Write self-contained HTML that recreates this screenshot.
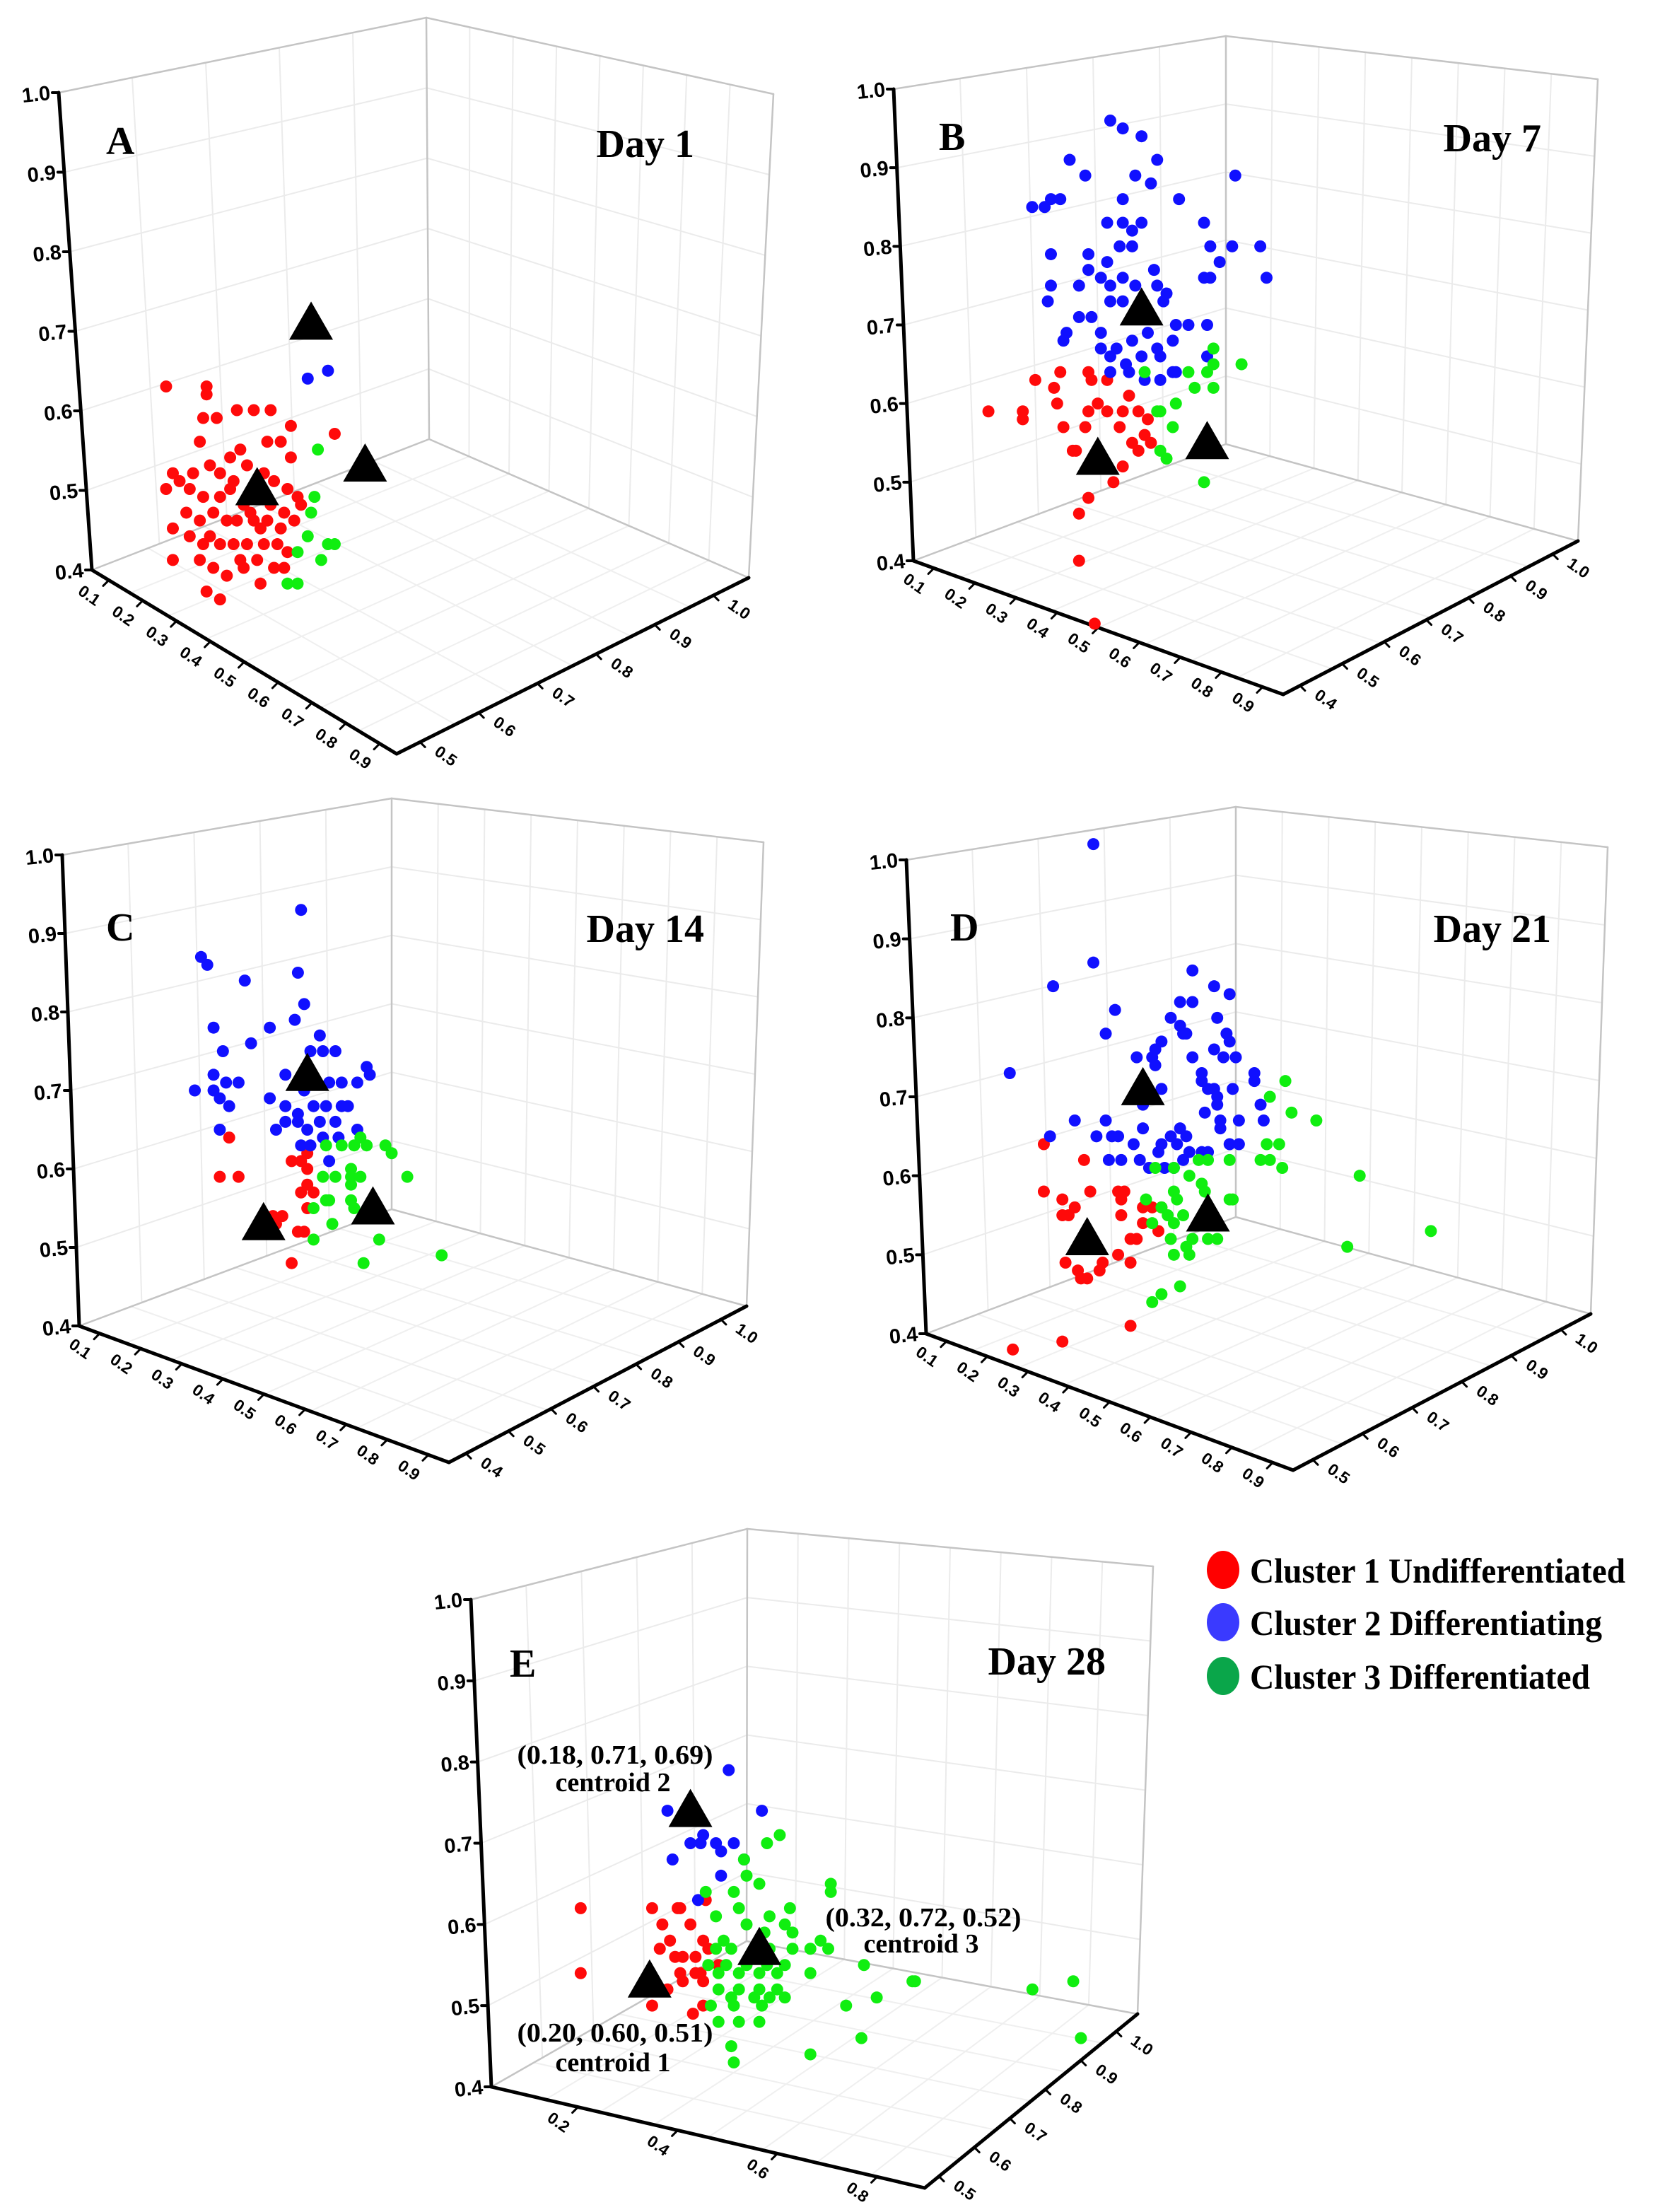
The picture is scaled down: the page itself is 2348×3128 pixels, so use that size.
<!DOCTYPE html>
<html><head><meta charset="utf-8"><title>K-means clusters by day</title>
<style>
html,body{margin:0;padding:0;background:#fff;}
svg{display:block;}
.ttl{font-family:"Liberation Serif",serif;font-weight:bold;font-size:56px;fill:#000;}
.lg{font-family:"Liberation Serif",serif;font-weight:bold;font-size:50px;fill:#000;}
.ann{font-family:"Liberation Serif",serif;font-weight:bold;font-size:38px;fill:#000;}
</style></head>
<body>
<svg id="fig" xmlns="http://www.w3.org/2000/svg" width="2348" height="3128" viewBox="0 0 2348 3128">
<rect x="0" y="0" width="2348" height="3128" fill="#fff"/>
<g id="layer-grid"></g>
<g id="layer-axes"></g>
<g id="layer-marks"></g>

<text class="ttl" x="150" y="218">A</text>
<text class="ttl" x="982" y="222" text-anchor="end">Day 1</text>
<text class="ttl" x="1328" y="212">B</text>
<text class="ttl" x="2180" y="214" text-anchor="end">Day 7</text>
<text class="ttl" x="150" y="1330">C</text>
<text class="ttl" x="996" y="1332" text-anchor="end">Day 14</text>
<text class="ttl" x="1344" y="1330">D</text>
<text class="ttl" x="2194" y="1332" text-anchor="end">Day 21</text>
<text class="ttl" x="721" y="2371">E</text>
<text class="ttl" x="1564" y="2368" text-anchor="end">Day 28</text>

<g>
  <ellipse cx="1730" cy="2220" rx="23" ry="27" fill="#ff0000"/>
  <text class="lg" x="1768" y="2238" textLength="531" lengthAdjust="spacingAndGlyphs">Cluster 1 Undifferentiated</text>
  <ellipse cx="1730" cy="2294" rx="23" ry="27" fill="#3a3aff"/>
  <text class="lg" x="1768" y="2312" textLength="498" lengthAdjust="spacingAndGlyphs">Cluster 2 Differentiating</text>
  <ellipse cx="1730" cy="2370" rx="23" ry="27" fill="#0aa64a"/>
  <text class="lg" x="1768" y="2388" textLength="481" lengthAdjust="spacingAndGlyphs">Cluster 3 Differentiated</text>
</g>

<g>
  <text class="ann" x="870" y="2494" text-anchor="middle" textLength="277" lengthAdjust="spacingAndGlyphs">(0.18, 0.71, 0.69)</text>
  <text class="ann" x="867" y="2533" text-anchor="middle">centroid 2</text>
  <text class="ann" x="1306" y="2724" text-anchor="middle" textLength="277" lengthAdjust="spacingAndGlyphs">(0.32, 0.72, 0.52)</text>
  <text class="ann" x="1303" y="2761" text-anchor="middle">centroid 3</text>
  <text class="ann" x="870" y="2887" text-anchor="middle" textLength="277" lengthAdjust="spacingAndGlyphs">(0.20, 0.60, 0.51)</text>
  <text class="ann" x="867" y="2929" text-anchor="middle">centroid 1</text>
</g>
</svg>

<script>
// ---------- data: [depth (0..1 along floor), height (0.4..1.0)] ----------
const heightTicks = [0.4, 0.5, 0.6, 0.7, 0.8, 0.9, 1.0];
const heightTickLabels = ['0.4','0.5','0.6','0.7','0.8','0.9','1.0'];
const frontTicks9 = ['0.1','0.2','0.3','0.4','0.5','0.6','0.7','0.8','0.9'];
const frontTicksE = ['0.2','0.4','0.6','0.8'];
const rightTicks6 = ['0.5','0.6','0.7','0.8','0.9','1.0'];
const rightTicks7 = ['0.4','0.5','0.6','0.7','0.8','0.9','1.0'];

const dayA_cluster1 = [[.22,.63],[.34,.63],[.34,.62],[.33,.59],[.37,.59],[.43,.60],[.48,.60],[.53,.60],[.59,.58],[.56,.56],[.52,.56],[.59,.54],[.32,.56],[.41,.54],[.24,.52],[.26,.51],[.35,.53],[.38,.52],[.42,.51],[.46,.53],[.51,.52],[.54,.51],[.58,.50],[.61,.49],[.22,.50],[.29,.50],[.33,.49],[.38,.49],[.41,.50],[.45,.48],[.49,.49],[.53,.48],[.57,.47],[.62,.48],[.28,.47],[.32,.46],[.36,.47],[.40,.46],[.43,.46],[.48,.46],[.52,.46],[.56,.45],[.60,.46],[.24,.45],[.29,.44],[.33,.43],[.38,.43],[.42,.43],[.46,.43],[.51,.43],[.55,.43],[.58,.42],[.32,.41],[.36,.40],[.40,.39],[.45,.40],[.49,.41],[.54,.40],[.24,.41],[.34,.37],[.38,.36],[.50,.38],[.57,.40],[.72,.57],[.44,.55],[.47,.47],[.35,.44],[.44,.41],[.30,.52],[.50,.45]];
const dayA_cluster2 = [[.64,.64],[.70,.65]];
const dayA_cluster3 = [[.67,.55],[.66,.49],[.65,.47],[.64,.44],[.61,.42],[.70,.43],[.72,.43],[.68,.41],[.58,.38],[.61,.38]];
const dayA_centroids = [[.49,.50],[.65,.71],[.81,.53]];

const dayB_cluster1 = [[.56,.64],[.47,.64],[.57,.63],[.39,.63],[.62,.63],[.45,.62],[.69,.61],[.24,.59],[.35,.59],[.46,.60],[.59,.60],[.56,.59],[.62,.59],[.67,.59],[.72,.59],[.75,.58],[.48,.57],[.55,.57],[.66,.57],[.74,.56],[.35,.58],[.51,.54],[.70,.55],[.72,.54],[.76,.55],[.52,.54],[.67,.52],[.64,.50],[.56,.48],[.53,.46],[.53,.40],[.58,.32]];
const dayB_cluster2 = [[.63,.96],[.67,.95],[.73,.94],[.50,.91],[.78,.91],[.55,.89],[.71,.89],[.76,.88],[.38,.85],[.42,.85],[.44,.86],[.47,.86],[.67,.86],[.85,.86],[1.03,.89],[.62,.83],[.67,.83],[.70,.82],[.73,.83],[.93,.83],[.66,.80],[.70,.80],[.95,.80],[.44,.79],[.56,.79],[.62,.78],[1.02,.80],[1.11,.80],[.98,.78],[1.13,.76],[.77,.77],[.56,.77],[.53,.75],[.60,.76],[.63,.75],[.67,.76],[.71,.75],[.78,.75],[.81,.74],[.93,.76],[.95,.76],[.44,.75],[.43,.73],[.53,.71],[.57,.71],[.63,.73],[.67,.73],[.70,.71],[.80,.73],[.84,.70],[.88,.70],[.94,.70],[.49,.69],[.48,.68],[.60,.69],[.65,.67],[.70,.68],[.75,.69],[.78,.67],[.83,.68],[.60,.67],[.63,.66],[.68,.65],[.73,.66],[.79,.66],[.83,.64],[.63,.64],[.69,.64],[.74,.63],[.79,.63],[.84,.64],[.94,.66]];
const dayB_cluster3 = [[.74,.64],[.88,.64],[.94,.64],[.96,.65],[.96,.67],[1.05,.65],[.90,.62],[.96,.62],[.84,.60],[.78,.59],[.79,.59],[.83,.57],[.79,.54],[.81,.53],[.93,.50]];
const dayB_centroids = [[.59,.53],[.73,.72],[.94,.55]];

const dayC_cluster1 = [[.48,.64],[.45,.59],[.51,.59],[.68,.61],[.71,.61],[.73,.62],[.73,.60],[.73,.58],[.75,.57],[.71,.57],[.73,.55],[.62,.54],[.65,.54],[.63,.53],[.70,.52],[.72,.52],[.68,.48]];
const dayC_cluster2 = [[.71,.93],[.39,.87],[.41,.86],[.53,.84],[.70,.85],[.72,.81],[.69,.79],[.61,.78],[.43,.78],[.55,.76],[.77,.77],[.46,.75],[.74,.75],[.78,.75],[.82,.75],[.43,.72],[.47,.71],[.51,.71],[.66,.72],[.37,.70],[.43,.70],[.45,.69],[.48,.68],[.61,.69],[.72,.70],[.76,.71],[.80,.71],[.84,.71],[.89,.71],[.92,.73],[.93,.72],[.66,.68],[.70,.67],[.75,.68],[.79,.68],[.84,.68],[.86,.68],[.45,.65],[.63,.65],[.66,.66],[.70,.66],[.73,.65],[.77,.66],[.82,.66],[.89,.65],[.71,.63],[.74,.63],[.80,.61],[.78,.64],[.83,.64]];
const dayC_cluster3 = [[.79,.63],[.84,.63],[.88,.63],[.90,.64],[.92,.63],[.98,.63],[1.0,.62],[.78,.59],[.82,.59],[.87,.60],[.87,.59],[.87,.58],[.90,.59],[1.05,.59],[.75,.55],[.79,.56],[.80,.56],[.87,.56],[.88,.55],[.81,.53],[.75,.51],[.96,.51],[.91,.48],[1.16,.49]];
const dayC_centroids = [[.59,.53],[.73,.72],[.94,.55]];

const dayD_cluster1 = [[.38,.64],[.51,.62],[.38,.58],[.44,.57],[.48,.56],[.44,.55],[.46,.55],[.53,.58],[.62,.58],[.64,.58],[.63,.57],[.63,.55],[.70,.56],[.73,.56],[.76,.56],[.70,.54],[.75,.53],[.66,.52],[.68,.52],[.45,.49],[.49,.48],[.57,.49],[.62,.50],[.66,.49],[.50,.47],[.52,.47],[.56,.48],[.66,.41],[.44,.39],[.28,.38]];
const dayD_cluster2 = [[.54,1.02],[.54,.87],[.41,.84],[.61,.81],[.58,.78],[.27,.73],[.40,.65],[.48,.67],[.55,.65],[.58,.67],[.60,.65],[.62,.65],[.59,.62],[.63,.62],[.67,.64],[.69,.62],[.70,.66],[.70,.69],[.68,.75],[.73,.75],[.74,.76],[.76,.77],[.74,.74],[.76,.71],[.73,.70],[.76,.64],[.75,.63],[.81,.64],[.79,.65],[.82,.66],[.84,.65],[.83,.62],[.85,.63],[.89,.63],[.91,.63],[.90,.68],[.89,.72],[.89,.73],[.91,.71],[.93,.71],[.94,.70],[.94,.69],[.95,.67],[.95,.66],[.98,.64],[1.01,.67],[1.01,.64],[.99,.71],[1.0,.75],[.98,.77],[.96,.75],[.97,.78],[.93,.76],[.86,.75],[.84,.78],[.82,.79],[.83,.78],[.79,.80],[.82,.82],[.86,.86],[.86,.82],[.93,.84],[.98,.83],[.94,.80],[1.06,.73],[1.06,.72],[1.08,.69],[1.09,.67],[.72,.61],[.77,.61],[.80,.61]];
const dayD_cluster3 = [[.74,.61],[.80,.61],[.85,.60],[.88,.62],[.91,.62],[.98,.62],[1.16,.72],[1.11,.70],[1.18,.68],[1.26,.67],[1.10,.64],[1.14,.64],[1.08,.62],[1.11,.62],[1.15,.61],[1.40,.60],[.89,.59],[.90,.58],[.80,.58],[.81,.57],[.98,.57],[.99,.57],[.71,.57],[.76,.56],[.78,.55],[.73,.54],[.80,.54],[.83,.55],[.79,.52],[.84,.51],[.86,.52],[.91,.52],[.94,.52],[.85,.50],[.80,.50],[1.63,.53],[1.36,.51],[.82,.46],[.76,.45],[.73,.44]];
const dayD_centroids = [[.52,.52],[.70,.71],[.91,.55]];

const dayE_cluster1 = [[.35,.62],[.63,.62],[.74,.62],[.73,.62],[.84,.63],[.67,.60],[.78,.60],[.70,.58],[.66,.57],[.83,.58],[.85,.57],[.75,.56],[.72,.56],[.80,.56],[.82,.54],[.89,.55],[.74,.54],[.80,.54],[.75,.53],[.69,.52],[.83,.53],[.35,.54],[.63,.50],[.79,.49],[.83,.50]];
const dayE_cluster2 = [[.93,.79],[.69,.74],[1.06,.74],[.78,.70],[.82,.70],[.83,.71],[.88,.70],[.90,.69],[.95,.70],[.71,.68],[.90,.66],[.99,.68],[.81,.63]];
const dayE_cluster3 = [[1.13,.71],[1.08,.70],[.99,.68],[1.0,.66],[1.05,.65],[1.33,.65],[1.33,.64],[.84,.64],[.95,.64],[.97,.62],[1.17,.62],[.88,.61],[1.0,.60],[1.09,.61],[1.15,.60],[.91,.58],[1.07,.59],[1.18,.59],[1.29,.58],[.88,.57],[.94,.57],[1.09,.57],[1.18,.57],[1.25,.57],[1.32,.57],[.85,.55],[.92,.55],[1.0,.55],[1.08,.55],[1.15,.55],[1.25,.54],[.89,.54],[.97,.54],[1.05,.54],[1.12,.54],[.89,.52],[.97,.52],[1.05,.52],[1.12,.52],[1.46,.55],[1.65,.53],[1.66,.53],[.94,.51],[1.03,.51],[1.15,.51],[.86,.50],[.95,.50],[1.06,.50],[1.09,.51],[.89,.48],[.97,.48],[1.05,.48],[1.39,.50],[1.51,.51],[2.12,.52],[2.28,.53],[.94,.45],[1.25,.44],[1.45,.46],[2.31,.46],[.95,.43]];
const dayE_centroids = [[.62,.53],[.78,.74],[1.05,.57]];

// ---------- layout (frame geometry per panel) ----------
const panels = [
 {id:'a', O:[130,806], Ot:[83,131], B:[607,621], Bt:[603,25], F:[561,1066], R:[1059,817], Rt:[1094,133], yLo:803, yHi:134, front:frontTicks9, right:rightTicks6,
  c1:dayA_cluster1, c2:dayA_cluster2, c3:dayA_cluster3, cent:dayA_centroids},
 {id:'b', O:[1292,793], Ot:[1264,126], B:[1734,628], Bt:[1734,51], F:[1815,982], R:[2232,765], Rt:[2260,112], yLo:793, yHi:126, front:frontTicks9, right:rightTicks7,
  c1:dayB_cluster1, c2:dayB_cluster2, c3:dayB_cluster3, cent:dayB_centroids},
 {id:'c', O:[112,1875], Ot:[88,1209], B:[554,1710], Bt:[554,1129], F:[635,2068], R:[1056,1847], Rt:[1080,1191], yLo:1875, yHi:1209, front:frontTicks9, right:rightTicks7,
  c1:dayC_cluster1, c2:dayC_cluster2, c3:dayC_cluster3, cent:dayC_centroids},
 {id:'d', O:[1310,1886], Ot:[1282,1216], B:[1748,1721], Bt:[1748,1141], F:[1829,2079], R:[2250,1858], Rt:[2274,1198], yLo:1886, yHi:1216, front:frontTicks9, right:rightTicks6,
  c1:dayD_cluster1, c2:dayD_cluster2, c3:dayD_cluster3, cent:dayD_centroids},
 {id:'e', O:[695,2951], Ot:[666,2262], B:[1056,2745], Bt:[1057,2162], F:[1308,3094], R:[1609,2848], Rt:[1631,2215], yLo:2951, yHi:2262, front:frontTicksE, right:rightTicks6,
  c1:dayE_cluster1, c2:dayE_cluster2, c3:dayE_cluster3, cent:dayE_centroids}
];

const NS = 'http://www.w3.org/2000/svg';
const gGrid = document.getElementById('layer-grid');
const gAxes = document.getElementById('layer-axes');
const gMarks = document.getElementById('layer-marks');
function lerp(a,b,t){return [a[0]+(b[0]-a[0])*t, a[1]+(b[1]-a[1])*t];}
function mk(tag, attrs){const e=document.createElementNS(NS,tag);for(const k in attrs)e.setAttribute(k,attrs[k]);return e;}
function line(parent,p,q,stroke,w){const l=mk('line',{x1:p[0],y1:p[1],x2:q[0],y2:q[1],stroke:stroke,'stroke-width':w,'stroke-linecap':'round'});parent.appendChild(l);return l;}

panels.forEach(function(P){
  const xScale = function(d){return P.O[0] + d*(P.B[0]-P.O[0]);};
  const yScale = function(h){return P.yLo + (h-0.4)/0.6*(P.yHi-P.yLo);};
  const tH = function(h){return (h-0.4)/0.6;};

  const grid = mk('g',{});
  
  
  gGrid.appendChild(grid);
  const gc = '#ebebeb';
  heightTicks.forEach(function(h){
    if(h===0.4) return;
    const t=tH(h);
    const a=lerp(P.O,P.Ot,t), b=lerp(P.B,P.Bt,t), c=lerp(P.R,P.Rt,t);
    const l1=line(grid,a,b,gc,2);
    
    
    const l2=line(grid,b,c,gc,2);
    
    
  });
  for(let k=1;k<5;k++){
    const t=k/5;
    const l=line(grid,lerp(P.O,P.B,t),lerp(P.Ot,P.Bt,t),gc,2);
    
    
  }
  for(let k=1;k<8;k++){
    const t=k/8;
    const l=line(grid,lerp(P.B,P.R,t),lerp(P.Bt,P.Rt,t),gc,2);
    
    
  }
  for(let k=1;k<8;k++){
    const t=k/8;
    const l=line(grid,lerp(P.O,P.F,t),lerp(P.B,P.R,t),'#efefef',2);
    
    
  }
  for(let k=1;k<6;k++){
    const t=k/6;
    const l=line(grid,lerp(P.O,P.B,t),lerp(P.F,P.R,t),'#efefef',2);
    
    
  }
  const fc='#c4c4c4';
  [[P.Ot,P.Bt],[P.Bt,P.Rt],[P.Rt,P.R],[P.B,P.Bt],[P.O,P.B],[P.B,P.R]].forEach(function(s){
    const l=line(grid,s[0],s[1],fc,2.5);
    
    
  });

  const ax = mk('g',{});
  
  
  gAxes.appendChild(ax);
  const va=line(ax,P.O,P.Ot,'#000',5);
  
  
  const fa=line(ax,P.O,P.F,'#000',5);
  
  
  const ra=line(ax,P.F,P.R,'#000',5);
  
  

  heightTicks.forEach(function(h,i){
    const p=lerp(P.O,P.Ot,tH(h));
    const tk=line(ax,[p[0]-9,p[1]],p,'#000',4);
    
    
    const tx=mk('text',{x:p[0]-12,y:p[1]+10,'text-anchor':'end','font-family':'Liberation Sans, sans-serif','font-weight':'bold','font-size':'29',fill:'#000',transform:'rotate(-6 '+(p[0]-12)+' '+p[1]+')'});
    tx.textContent=heightTickLabels[i];
    
    
    ax.appendChild(tx);
  });
  P.front.forEach(function(lab,i){
    const n=P.front.length;
    const t=(n===9)? (i+0.5)/9 : (0.2+i*0.23);
    const p=lerp(P.O,P.F,t);
    const tk=line(ax,p,[p[0]-8,p[1]+8],'#000',3);
    
    
    const x=p[0]-32, y=p[1]+28;
    const tx=mk('text',{x:x,y:y,'text-anchor':'middle','font-family':'Liberation Sans, sans-serif','font-weight':'bold','font-size':'23',fill:'#000',transform:'rotate(35 '+x+' '+y+')'});
    tx.textContent=lab;
    
    
    ax.appendChild(tx);
  });
  P.right.forEach(function(lab,i){
    const n=P.right.length;
    const t=(i+0.4)/n;
    const p=lerp(P.F,P.R,t);
    const tk=line(ax,p,[p[0]+7,p[1]+7],'#000',3);
    
    
    const x=p[0]+32, y=p[1]+26;
    const tx=mk('text',{x:x,y:y,'text-anchor':'middle','font-family':'Liberation Sans, sans-serif','font-weight':'bold','font-size':'23',fill:'#000',transform:'rotate(35 '+x+' '+y+')'});
    tx.textContent=lab;
    
    
    ax.appendChild(tx);
  });

  const mg = mk('g',{});
  
  
  gMarks.appendChild(mg);
  [[P.c1,'#ff0a0a','cluster-1-point'],[P.c2,'#1010ff','cluster-2-point'],[P.c3,'#10ee10','cluster-3-point']].forEach(function(s){
    s[0].forEach(function(pt){
      const c=mk('circle',{cx:xScale(pt[0]),cy:yScale(pt[1]),r:8.5,fill:s[1]});
      
      
      mg.appendChild(c);
    });
  });
  P.cent.forEach(function(pt){
    const cx=xScale(pt[0]), cy=yScale(pt[1]);
    const tri=mk('polygon',{points:(cx)+','+(cy-31)+' '+(cx-31)+','+(cy+23)+' '+(cx+31)+','+(cy+23),fill:'#000'});
    
    
    mg.appendChild(tri);
  });
});
</script>
</body></html>
